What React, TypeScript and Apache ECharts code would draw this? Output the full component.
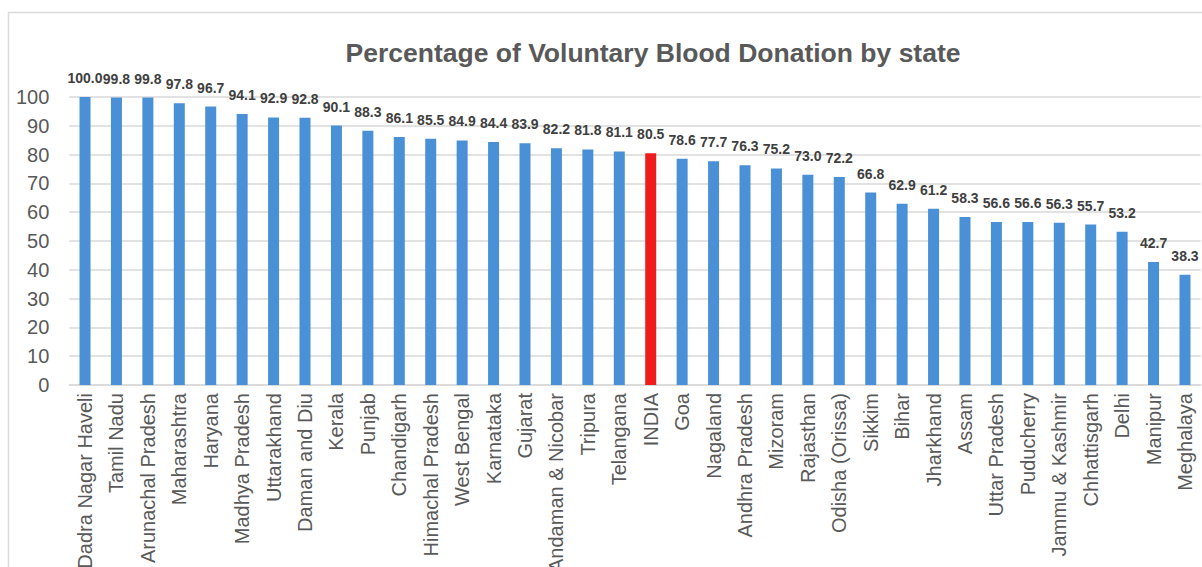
import React, { useEffect, useRef } from "react";
import * as echarts from "echarts";

const categories: string[] = [
  "Dadra Nagar Haveli", "Tamil Nadu", "Arunachal Pradesh", "Maharashtra", "Haryana",
  "Madhya Pradesh", "Uttarakhand", "Daman and Diu", "Kerala", "Punjab", "Chandigarh",
  "Himachal Pradesh", "West Bengal", "Karnataka", "Gujarat", "Andaman & Nicobar",
  "Tripura", "Telangana", "INDIA", "Goa", "Nagaland", "Andhra Pradesh", "Mizoram",
  "Rajasthan", "Odisha (Orissa)", "Sikkim", "Bihar", "Jharkhand", "Assam",
  "Uttar Pradesh", "Puducherry", "Jammu & Kashmir", "Chhattisgarh", "Delhi",
  "Manipur", "Meghalaya",
];

const values: number[] = [
  100.0, 99.8, 99.8, 97.8, 96.7, 94.1, 92.9, 92.8, 90.1, 88.3, 86.1, 85.5, 84.9,
  84.4, 83.9, 82.2, 81.8, 81.1, 80.5, 78.6, 77.7, 76.3, 75.2, 73.0, 72.2, 66.8,
  62.9, 61.2, 58.3, 56.6, 56.6, 56.3, 55.7, 53.2, 42.7, 38.3,
];

const highlight = "INDIA";
const titleText = "Percentage of Voluntary Blood Donation by state";

export default function App() {
  const ref = useRef<HTMLDivElement>(null);
  useEffect(() => {
    if (!ref.current) return;
    const chart = echarts.init(ref.current, null, { renderer: "svg" });
    const font = "'Liberation Sans', Arial, sans-serif";
    chart.setOption({
      animation: false,
      backgroundColor: "#ffffff",
      textStyle: { fontFamily: font },
      title: {
        text: titleText,
        left: 648,
        textAlign: "center",
        top: 34,
        textStyle: { fontSize: 26.5, fontWeight: "bold", color: "#595959", fontFamily: font },
      },
      graphic: [
        {
          type: "rect",
          shape: { x: 8.5, y: 12.5, width: 1400, height: 800 },
          style: { fill: "none", stroke: "#d9d9d9", lineWidth: 1.5 },
          silent: true,
        },
      ],
      grid: {
        left: 69.3,
        right: 1.3,
        top: 97,
        bottom: 182,
        containLabel: false,
        outerBoundsMode: "none",
      },
      xAxis: {
        type: "category",
        data: categories,
        axisLine: { show: true, lineStyle: { color: "#d9d9d9", width: 1.5 } },
        axisTick: { show: false },
        axisLabel: {
          interval: 0,
          rotate: 90,
          fontSize: 20,
          color: "#595959",
          margin: 8,
          fontFamily: font,
        },
      },
      yAxis: {
        type: "value",
        min: 0,
        max: 100,
        interval: 10,
        axisLine: { show: false },
        axisTick: { show: false },
        splitLine: { lineStyle: { color: "#d9d9d9", width: 1.5 } },
        axisLabel: { fontSize: 20, color: "#595959", margin: 20, fontFamily: font },
      },
      series: [
        {
          type: "bar",
          barWidth: 11,
          data: values.map((v, i) => ({
            value: v,
            itemStyle: { color: categories[i] === highlight ? "#EE1C1C" : "#4A90D6" },
          })),
          label: {
            show: true,
            position: "top",
            distance: 12,
            formatter: (p: any) => Number(p.value).toFixed(1),
            fontSize: 14,
            fontWeight: "bold",
            color: "#404040",
            fontFamily: font,
          },
        },
      ],
    });
    return () => chart.dispose();
  }, []);
  return (
    <div
      ref={ref}
      style={{ position: "fixed", left: 0, top: 0, width: 1202, height: 567 }}
    />
  );
}
